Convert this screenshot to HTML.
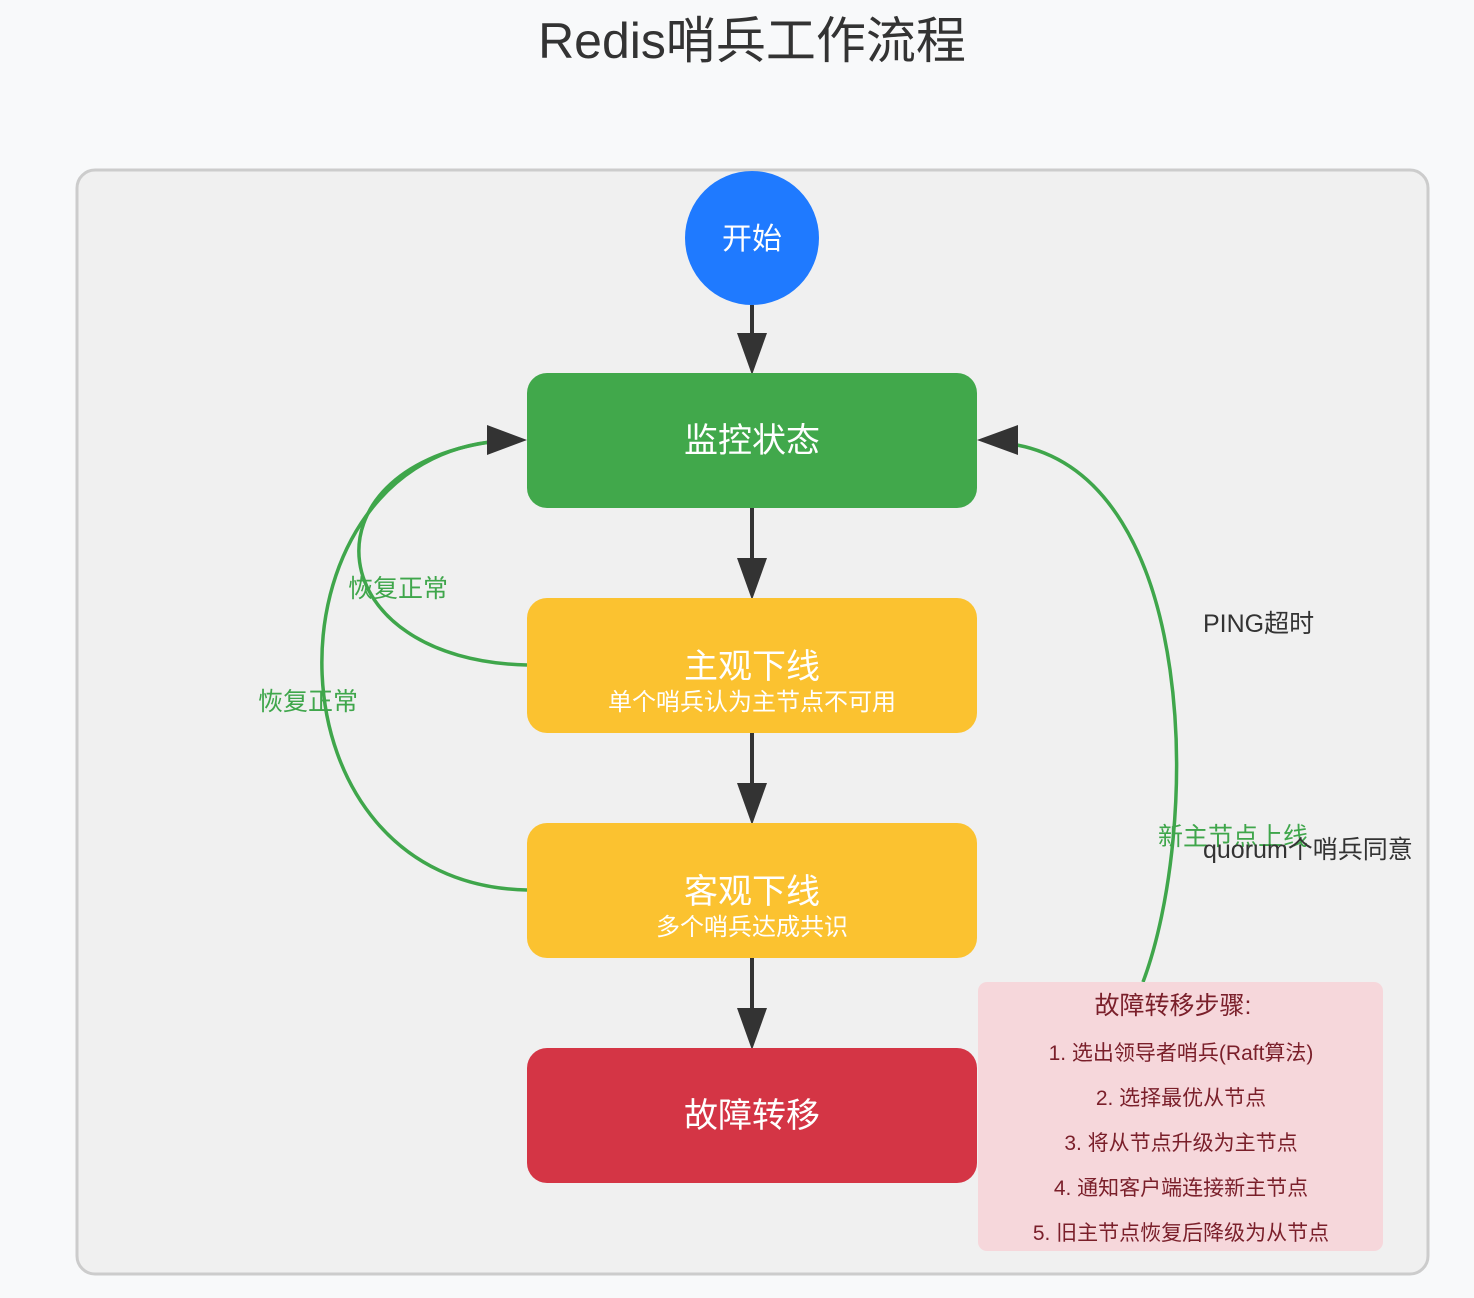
<!DOCTYPE html>
<html><head><meta charset="utf-8"><style>
html,body{margin:0;padding:0;background:#f8f9fa;}
body{width:1474px;height:1298px;position:relative;overflow:hidden;font-family:"Liberation Sans","Noto Sans CJK SC",sans-serif;}
</style></head><body>
<svg width="1474" height="1298" xmlns="http://www.w3.org/2000/svg" style="position:absolute;left:0;top:0" font-family="Liberation Sans, Noto Sans CJK SC, sans-serif">
<text x="752" y="58" text-anchor="middle" font-size="50" fill="#333">Redis哨兵工作流程</text>
<rect x="77" y="170" width="1351" height="1104" rx="18" fill="#f0f0f0" stroke="#ccc" stroke-width="3"/>
<circle cx="752" cy="238" r="67" fill="#1f7aff"/>
<text x="752" y="249" text-anchor="middle" font-size="30" fill="#fff">开始</text>
<!-- vertical edges -->
<g stroke="#333" stroke-width="4">
<line x1="752" y1="305" x2="752" y2="340"/>
<line x1="752" y1="508" x2="752" y2="565"/>
<line x1="752" y1="733" x2="752" y2="790"/>
<line x1="752" y1="958" x2="752" y2="1015"/>
</g>
<g fill="#333">
<polygon points="737,333 767,333 752,375"/>
<polygon points="737,558 767,558 752,600"/>
<polygon points="737,783 767,783 752,825"/>
<polygon points="737,1008 767,1008 752,1050"/>
</g>
<!-- green curves -->
<g fill="none" stroke="#3fa64b" stroke-width="3.5">
<path d="M527,665 C320,660 300,470 490,442"/>
<path d="M527,890 C260,885 260,470 490,442"/>
<path d="M1143,982 C1200,830 1200,480 1017,445"/>
</g>
<polygon points="487,425 487,455 527,440" fill="#333"/>
<polygon points="1018,425 1018,455 977,440" fill="#333"/>
<rect x="527" y="373" width="450" height="135" rx="20" fill="#41a84b"/>
<text x="752" y="452" text-anchor="middle" font-size="34" fill="#fff">监控状态</text>
<rect x="527" y="598" width="450" height="135" rx="20" fill="#fbc230"/>
<text x="752" y="678" text-anchor="middle" font-size="34" fill="#fff">主观下线</text>
<text x="752" y="710" text-anchor="middle" font-size="24" fill="#fff">单个哨兵认为主节点不可用</text>
<rect x="527" y="823" width="450" height="135" rx="20" fill="#fbc230"/>
<text x="752" y="903" text-anchor="middle" font-size="34" fill="#fff">客观下线</text>
<text x="752" y="935" text-anchor="middle" font-size="24" fill="#fff">多个哨兵达成共识</text>
<rect x="527" y="1048" width="450" height="135" rx="20" fill="#d43545"/>
<text x="752" y="1127" text-anchor="middle" font-size="34" fill="#fff">故障转移</text>
<g font-size="25" fill="#3fa64b">
<text x="348" y="597">恢复正常</text>
<text x="258" y="710">恢复正常</text>
<text x="1158" y="845">新主节点上线</text>
</g>
<g font-size="25" fill="#333">
<text x="1203" y="632">PING超时</text>
<text x="1203" y="858">quorum个哨兵同意</text>
</g>
<rect x="978" y="982" width="405" height="269" rx="9" fill="#f6d7db"/>
<g fill="#7a1f2a" text-anchor="middle">
<text x="1173" y="1014" font-size="25">故障转移步骤:</text>
<text x="1181" y="1060" font-size="21">1. 选出领导者哨兵(Raft算法)</text>
<text x="1181" y="1105" font-size="21">2. 选择最优从节点</text>
<text x="1181" y="1150" font-size="21">3. 将从节点升级为主节点</text>
<text x="1181" y="1195" font-size="21">4. 通知客户端连接新主节点</text>
<text x="1181" y="1240" font-size="21">5. 旧主节点恢复后降级为从节点</text>
</g>
</svg>
</body></html>
